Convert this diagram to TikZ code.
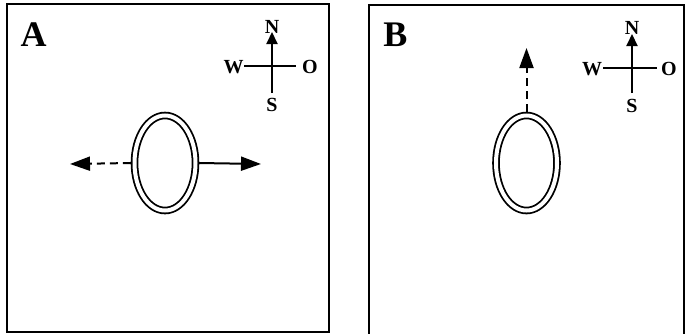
\documentclass[tikz,border=0pt]{standalone}
\usepackage{fontspec}
\setmainfont{Liberation Serif}
\usetikzlibrary{arrows.meta,shapes.geometric}
\begin{document}
\begin{tikzpicture}[x=1pt,y=-1pt,
  panel/.style={draw,line width=2.4pt},
  big/.style={font=\bfseries\fontsize{36}{36}\selectfont,inner sep=0pt},
  dir/.style={font=\bfseries\fontsize{20}{20}\selectfont,inner sep=0pt},
  compass/.style={line width=2pt},
  ctip/.style={-{Triangle[length=12pt,width=11pt]}},
  ring/.style={ellipse,draw,line width=1.8pt,double,double distance=4pt,
    minimum width=61pt,minimum height=95pt,inner sep=0pt,outer sep=3.6pt},
  mv/.style={line width=2pt,-{Triangle[length=20pt,width=14pt]}},
  dsh/.style={dash pattern=on 8pt off 5pt}]
\useasboundingbox (0,0) rectangle (685,333);
% panel A
\draw[panel] (7,4) rectangle (329,332);
\node[big] (la) at (33.5,35) {A};
\coordinate (atop) at (272,32);
\coordinate (abot) at (272,93);
\coordinate (aw) at (244,66);
\coordinate (ao) at (296,66);
\draw[compass,ctip] (abot) -- (atop);
\draw[compass] (aw) -- (ao);
\node[dir] (an) at (272,27) {N};
\node[dir] (aW) at (233.5,67) {W};
\node[dir] (aO) at (310,67) {O};
\node[dir] (aS) at (272,105) {S};
\node[ring] (ea) at (165,163) {};
\coordinate (al) at (70,164);
\coordinate (ar) at (261,164);
\draw[mv,dsh] (ea.west) -- (al);
\draw[mv] (ea.east) -- (ar);
% panel B
\draw[panel] (369,5) rectangle (684,340);
\node[big] (lb) at (395.5,35) {B};
\coordinate (btop) at (632,34);
\coordinate (bbot) at (632,93);
\coordinate (bw) at (603,68);
\coordinate (bo) at (657,68);
\draw[compass,ctip] (bbot) -- (btop);
\draw[compass] (bw) -- (bo);
\node[dir] (bn) at (632,28) {N};
\node[dir] (bW) at (592,69) {W};
\node[dir] (bO) at (669,69) {O};
\node[dir] (bS) at (632,106) {S};
\node[ring] (eb) at (526.5,163) {};
\coordinate (bu) at (526.5,48);
\draw[mv,dsh] (eb.north) -- (bu);
\end{tikzpicture}
\end{document}
